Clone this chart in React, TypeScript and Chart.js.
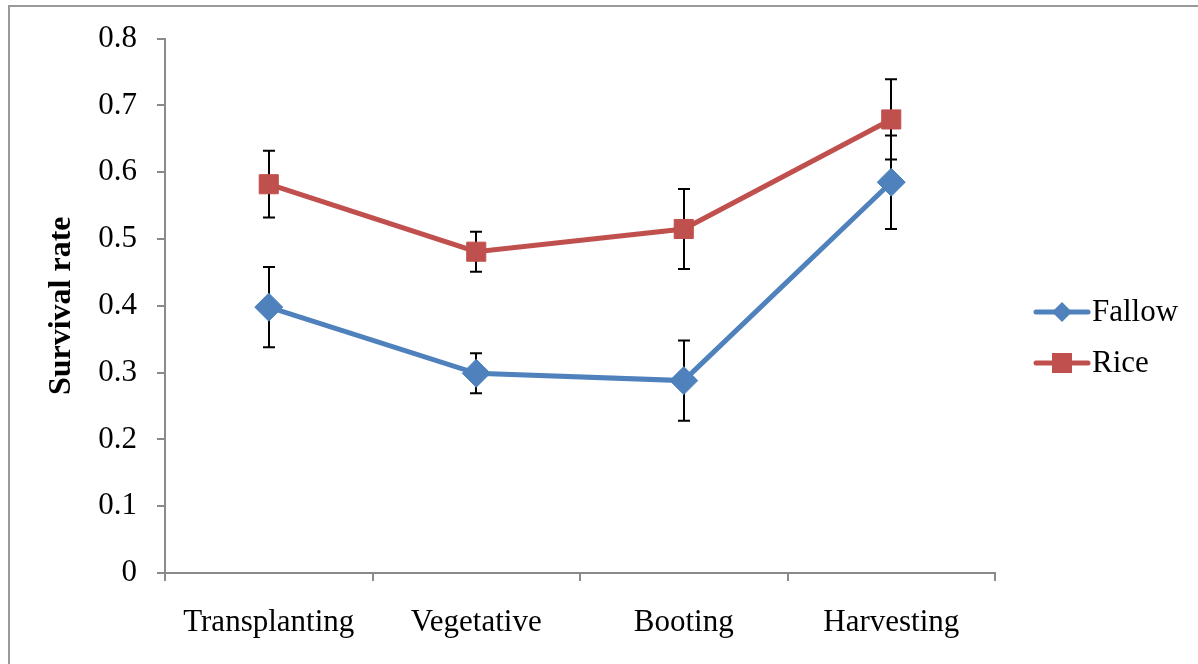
import React, { useEffect, useRef } from "react";
import { Chart, registerables } from "chart.js";

Chart.register(...registerables);

const categories = ["Transplanting", "Vegetative", "Booting", "Harvesting"];
const fallowValues = [0.398, 0.299, 0.288, 0.585];
const fallowErrors = [0.06, 0.03, 0.06, 0.07];
const riceValues = [0.582, 0.481, 0.515, 0.679];
const riceErrors = [0.05, 0.03, 0.06, 0.06];
const yTicks = [0, 0.1, 0.2, 0.3, 0.4, 0.5, 0.6, 0.7, 0.8];

const FONT = "'Liberation Serif', 'Times New Roman', serif";
const BLUE = "#4F81BD";
const RED = "#C0504D";
const AXIS = "#8a8a8a";

const errorsByDataset = [fallowErrors, riceErrors];

const errorBarPlugin = {
  id: "errorBars",
  beforeDatasetsDraw(chart: any) {
    const ctx = chart.ctx;
    const y = chart.scales.y;
    ctx.save();
    ctx.strokeStyle = "#000";
    ctx.lineWidth = 2;
    chart.data.datasets.forEach((ds: any, di: number) => {
      const meta = chart.getDatasetMeta(di);
      const errs = errorsByDataset[di];
      meta.data.forEach((pt: any, i: number) => {
        const v = ds.data[i];
        const e = errs[i];
        const yt = y.getPixelForValue(v + e);
        const yb = y.getPixelForValue(v - e);
        const x = Math.round(pt.x);
        ctx.beginPath();
        ctx.moveTo(x, yt);
        ctx.lineTo(x, yb);
        ctx.moveTo(x - 6, yt);
        ctx.lineTo(x + 6, yt);
        ctx.moveTo(x - 6, yb);
        ctx.lineTo(x + 6, yb);
        ctx.stroke();
      });
    });
    ctx.restore();
  },
};

const framePlugin = {
  id: "frame",
  beforeDraw(chart: any) {
    const ctx = chart.ctx;
    ctx.save();
    ctx.strokeStyle = "#999";
    ctx.lineWidth = 2;
    ctx.beginPath();
    ctx.moveTo(9, chart.height + 5);
    ctx.lineTo(9, 6);
    ctx.lineTo(chart.width + 5, 6);
    ctx.stroke();
    ctx.restore();
  },
};

const legendPlugin = {
  id: "customLegend",
  afterDraw(chart: any) {
    const ctx = chart.ctx;
    const right = chart.chartArea.right;
    const mid = chart.height / 2;
    const rows = [mid - 20, mid + 31];
    ctx.save();
    chart.data.datasets.forEach((ds: any, i: number) => {
      const yy = rows[i];
      const x0 = right + 41;
      const x1 = right + 93;
      const xm = (x0 + x1) / 2;
      ctx.strokeStyle = ds.borderColor;
      ctx.lineWidth = 5;
      ctx.lineCap = "round";
      ctx.beginPath();
      ctx.moveTo(x0, yy);
      ctx.lineTo(x1, yy);
      ctx.stroke();
      ctx.fillStyle = ds.backgroundColor;
      ctx.beginPath();
      if (ds.pointStyle === "rectRot") {
        ctx.moveTo(xm, yy - 10);
        ctx.lineTo(xm + 10, yy);
        ctx.lineTo(xm, yy + 10);
        ctx.lineTo(xm - 10, yy);
        ctx.closePath();
      } else {
        ctx.rect(xm - 10, yy - 10, 20, 20);
      }
      ctx.fill();
      ctx.fillStyle = "#000";
      ctx.font = `31px ${FONT}`;
      ctx.textBaseline = "middle";
      ctx.textAlign = "left";
      ctx.fillText(ds.label, right + 97, yy + 1);
    });
    ctx.restore();
  },
};

export default function App() {
  const ref = useRef<HTMLCanvasElement>(null);

  useEffect(() => {
    document.body.style.margin = "0";
    document.body.style.overflow = "hidden";
    const canvas = ref.current;
    if (!canvas) return;
    const chart = new Chart(canvas, {
      type: "line",
      data: {
        labels: categories,
        datasets: [
          {
            label: "Fallow",
            data: fallowValues,
            borderColor: BLUE,
            backgroundColor: BLUE,
            borderWidth: 5,
            pointStyle: "rectRot",
            pointRadius: 14,
            pointBorderWidth: 1,
            pointBorderColor: BLUE,
            pointBackgroundColor: BLUE,
            tension: 0,
          },
          {
            label: "Rice",
            data: riceValues,
            borderColor: RED,
            backgroundColor: RED,
            borderWidth: 5,
            pointStyle: "rect",
            pointRadius: 13.5,
            pointBorderWidth: 1,
            pointBorderColor: RED,
            pointBackgroundColor: RED,
            tension: 0,
          },
        ],
      },
      options: {
        animation: false,
        responsive: false,
        events: [],
        layout: { padding: { left: 39, top: 38, right: 203, bottom: 0 } },
        plugins: {
          legend: { display: false },
          tooltip: { enabled: false },
        },
        scales: {
          x: {
            type: "category",
            offset: true,
            grid: {
              offset: true,
              drawOnChartArea: false,
              drawTicks: true,
              tickLength: 8,
              color: AXIS,
              lineWidth: 2,
            },
            border: { color: AXIS, width: 2 },
            ticks: {
              color: "#000",
              font: { family: FONT, size: 31 },
              padding: 23,
              maxRotation: 0,
            },
            afterFit(scale: any) {
              scale.height = 91;
            },
          },
          y: {
            min: 0,
            max: 0.8,
            afterBuildTicks(scale: any) {
              scale.ticks = yTicks.map((v) => ({ value: v }));
            },
            grid: {
              drawOnChartArea: false,
              drawTicks: true,
              tickLength: 8,
              color: AXIS,
              lineWidth: 2,
            },
            border: { color: AXIS, width: 2 },
            ticks: {
              color: "#000",
              font: { family: FONT, size: 31 },
              padding: 20,
              callback: (v: any) => String(Math.round(Number(v) * 10) / 10),
            },
            title: {
              display: true,
              text: "Survival rate",
              color: "#000",
              font: { family: FONT, size: 32, weight: "bold" },
              padding: { top: 4, bottom: 4 },
            },
            afterFit(scale: any) {
              scale.width = 126;
            },
          },
        },
      },
      plugins: [framePlugin, errorBarPlugin, legendPlugin],
    });
    return () => chart.destroy();
  }, []);

  return <canvas ref={ref} width={1198} height={664} style={{ display: "block" }} />;
}
